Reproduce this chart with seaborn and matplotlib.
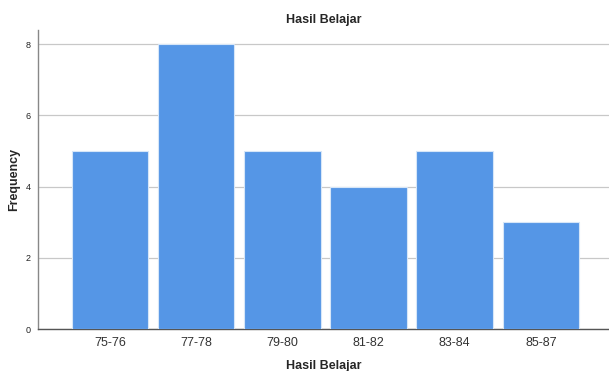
import matplotlib
matplotlib.use("Agg")
import matplotlib.pyplot as plt
import seaborn as sns

categories = ["75-76", "77-78", "79-80", "81-82", "83-84", "85-87"]
frequency = [5, 8, 5, 4, 5, 3]

sns.set_style("white")
plt.rcParams["font.family"] = ["Liberation Sans", "DejaVu Sans"]

fig = plt.figure(figsize=(6.09, 3.71), dpi=100)
ax = fig.add_axes([0.0624, 0.1132, 0.9376, 0.8058])

sns.barplot(x=categories, y=frequency, color="#5596E6", saturation=1,
            width=0.89, edgecolor="#D6E6F8", linewidth=0.8, ax=ax, zorder=3)

ax.set_xlim(-0.834, 5.79)
ax.set_ylim(0, 8.4)
ax.set_yticks([0, 2, 4, 6, 8])
ax.yaxis.grid(True, color="#C8C8C8", linewidth=0.9, zorder=0)
ax.set_axisbelow(True)
ax.tick_params(axis="y", labelsize=6.5, length=0, pad=5, labelcolor="#222222")
ax.tick_params(axis="x", labelsize=9, length=0, pad=6, labelcolor="#333333")

for side in ["top", "right"]:
    ax.spines[side].set_visible(False)
ax.spines["left"].set_color("#888888")
ax.spines["bottom"].set_color("#555555")
ax.spines["left"].set_linewidth(1.0)
ax.spines["bottom"].set_linewidth(1.0)

ax.set_title("Hasil Belajar", fontsize=9, fontweight="bold", pad=5)
ax.set_xlabel("Hasil Belajar", fontsize=9, fontweight="bold")
ax.set_ylabel("Frequency", fontsize=9, fontweight="bold")
ax.xaxis.set_label_coords(0.5, -37 / 299, transform=ax.transAxes)
ax.yaxis.set_label_coords(-24 / 571, 0.5, transform=ax.transAxes)
ax.xaxis.label.set_va("center")
ax.yaxis.label.set_va("center")

fig.savefig("out.png", dpi=100)
